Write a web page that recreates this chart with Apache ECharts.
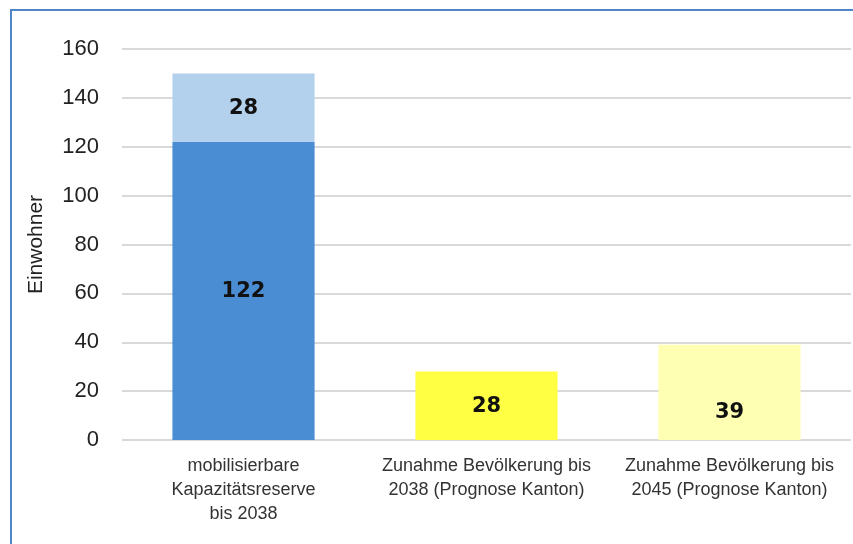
<!DOCTYPE html>
<html>
<head>
<meta charset="utf-8">
<script src="https://cdn.jsdelivr.net/npm/echarts@6/dist/echarts.min.js"></script>
<style>
  html, body { margin: 0; padding: 0; background: #fff; }
  #wrap { position: relative; width: 853px; height: 544px; overflow: hidden; }
  #chart { position: absolute; left: 0; top: 0; width: 853px; height: 544px; }
  #frame { position: absolute; left: 10px; top: 9px; width: 860px; height: 560px;
           border-left: 2px solid #4f86c6; border-top: 2px solid #4f86c6; pointer-events: none; }
</style>
</head>
<body>
<div id="wrap">
  <div id="chart"></div>
  <div id="frame"></div>
</div>
<script>
const categories = [
  'mobilisierbare\nKapazitätsreserve\nbis 2038',
  'Zunahme Bevölkerung bis\n2038 (Prognose Kanton)',
  'Zunahme Bevölkerung bis\n2045 (Prognose Kanton)'
]
const reserveBase = [122, '-', '-']
const reserveExtra = [28, '-', '-']
const prognose = ['-', 28, 39]
const prognoseColors = ['#ffff44', '#ffffb3']
const yTicks = { min: 0, max: 160, interval: 20 }

const font = '"Liberation Sans", Arial, sans-serif'
const labelStyle = {
  show: true,
  position: 'inside',
  color: '#111',
  fontFamily: '"DejaVu Sans", sans-serif',
  fontWeight: 'bold',
  fontSize: 21,
  offset: [0, 1]
}

const chart = echarts.init(document.getElementById('chart'))

chart.setOption({
  animation: false,
  grid: { left: 122, right: 2, top: 49, bottom: 104 },
  xAxis: {
    type: 'category',
    data: categories,
    axisLine: { show: false },
    axisTick: { show: false },
    axisLabel: { color: '#333', fontFamily: font, fontSize: 18, lineHeight: 24, margin: 14, interval: 0 }
  },
  yAxis: {
    type: 'value',
    min: yTicks.min,
    max: yTicks.max,
    interval: yTicks.interval,
    name: 'Einwohner',
    nameLocation: 'middle',
    nameGap: 75,
    nameTextStyle: { color: '#222', fontFamily: font, fontSize: 21, padding: [0, 0, 0, 0] },
    axisLine: { show: false },
    axisTick: { show: false },
    axisLabel: { color: '#222', fontFamily: font, fontSize: 22, margin: 23 },
    splitLine: { lineStyle: { color: '#d9d9d9', width: 2 } }
  },
  series: [
    {
      type: 'bar',
      stack: 'total',
      barCategoryGap: '41.5%',
      data: reserveBase,
      itemStyle: { color: '#4a8dd2' },
      label: labelStyle
    },
    {
      type: 'bar',
      stack: 'total',
      data: reserveExtra,
      itemStyle: { color: '#b3d0ec' },
      label: labelStyle
    },
    {
      type: 'bar',
      stack: 'total',
      data: prognose.map((v, i) => v === '-' ? v : {
        value: v,
        itemStyle: { color: prognoseColors[i - 1] },
        label: i === 2 ? { offset: [0, 20] } : {}
      }),
      label: labelStyle
    }
  ]
})
</script>
</body>
</html>
